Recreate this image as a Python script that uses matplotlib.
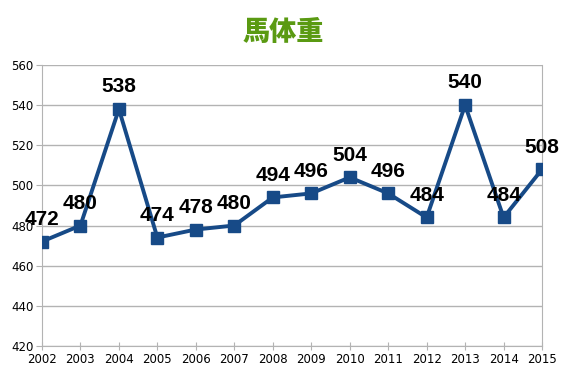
import matplotlib.pyplot as plt

# ── data ──────────────────────────────────────────────────────────────────────
YEARS   = [2002, 2003, 2004, 2005, 2006, 2007, 2008, 2009, 2010, 2011, 2012, 2013, 2014, 2015]
WEIGHTS = [472, 480, 538, 474, 478, 480, 494, 496, 504, 496, 484, 540, 484, 508]
Y_TICKS = [420, 440, 460, 480, 500, 520, 540, 560]

LINE_COLOR = "#174a87"
GRID_COLOR = "#b3b3b3"

fig = plt.figure(figsize=(5.67, 3.78), dpi=100)
ax = fig.add_axes([0.074, 0.085, 0.882, 0.743])

ax.plot(YEARS, WEIGHTS, color=LINE_COLOR, linewidth=2.8, marker="s",
        markersize=8.5, markerfacecolor=LINE_COLOR, markeredgecolor=LINE_COLOR, zorder=3)

for yr, w in zip(YEARS, WEIGHTS):
    ax.annotate(str(w), (yr, w), xytext=(0, 16), textcoords="offset points",
                ha="center", va="center", fontsize=15, fontweight="bold",
                family=["Liberation Sans", "DejaVu Sans"], color="black", zorder=4)

ax.set_xlim(YEARS[0], YEARS[-1])
ax.set_ylim(Y_TICKS[0], Y_TICKS[-1])
ax.set_xticks(YEARS)
ax.set_yticks(Y_TICKS)
ax.tick_params(axis="both", labelsize=8.5, color=GRID_COLOR, length=4, pad=2)
ax.tick_params(axis="x", direction="inout", length=6)
ax.yaxis.grid(True, color=GRID_COLOR, linewidth=1)
ax.set_axisbelow(True)

ax.spines["top"].set_visible(False)
for side in ("left", "right", "bottom"):
    ax.spines[side].set_color(GRID_COLOR)

fig.text(0.5, 0.915, "馬体重", ha="center", va="center", fontsize=19.5, fontweight=900,
         color="#5a9a12", family=["Noto Sans CJK JP", "DejaVu Sans"])

fig.savefig("out.png", dpi=100)
